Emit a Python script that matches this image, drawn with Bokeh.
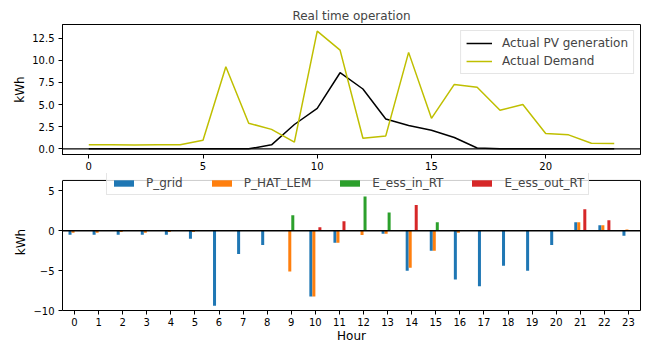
from bokeh.plotting import figure
from bokeh.layouts import column
from bokeh.models import (Range1d, FixedTicker, Span, Legend, LegendItem, ColumnDataSource,
                          LinearAxis)
from bokeh.transform import dodge
from bokeh.embed import file_html
from bokeh.resources import INLINE

hours = list(range(24))
pv_generation = [0, 0, 0, 0, 0, 0, 0, 0, 0.45, 2.75, 4.58, 8.6, 6.76, 3.38, 2.63, 2.1, 1.28, 0.1, 0, 0, 0, 0, 0, 0]
demand = [0.45, 0.45, 0.42, 0.47, 0.47, 0.98, 9.27, 2.9, 2.2, 0.75, 13.3, 11.15, 1.2, 1.46, 10.9, 3.45, 7.28, 6.95, 4.35, 5.0, 1.73, 1.58, 0.64, 0.6]

p_grid = [-0.5, -0.5, -0.5, -0.5, -0.5, -1.0, -9.4, -2.9, -1.8, 0, -8.26, -1.5, 0, -0.37, -5.0, -2.5, -6.1, -6.97, -4.4, -5.0, -1.78, 1.08, 0.7, -0.62]
p_hat_lem = [-0.25, -0.25, -0.15, -0.25, -0.15, -0.15, 0, 0, 0, -5.1, -8.26, -1.5, -0.54, -0.37, -4.65, -2.5, -0.25, 0, 0, 0, 0, 1.08, 0.7, 0.17]
e_ess_in_rt = [0, 0, 0, 0, 0, 0, 0, 0, 0, 1.95, 0, 0, 4.3, 2.3, 0, 1.08, 0, 0, 0, 0, 0, 0, 0, 0]
e_ess_out_rt = [0, 0, 0, 0, 0, 0, 0, 0, 0, 0, 0.45, 1.2, 0, 0, 3.24, 0, 0, 0, 0, 0, 0, 2.7, 1.33, 0]

series_names = ["P_grid", "P_HAT_LEM", "E_ess_in_RT", "E_ess_out_RT"]
series_colors = ["#1f77b4", "#ff7f0e", "#2ca02c", "#d62728"]

FONT = "DejaVu Sans"


def style(p):
    p.xgrid.visible = False
    p.ygrid.visible = False
    for ax in (p.xaxis[0], p.yaxis[0]):
        ax.axis_line_color = "black"
        ax.major_tick_line_color = "black"
        ax.major_tick_in = 0
        ax.major_tick_out = 4
        ax.minor_tick_line_color = None
        ax.major_label_text_font = FONT
        ax.major_label_text_font_size = "10px"
        ax.major_label_text_color = "black"
        ax.axis_label_text_font = FONT
        ax.axis_label_text_font_size = "12px"
        ax.axis_label_text_font_style = "normal"
        ax.axis_label_text_color = "black"
        ax.major_label_standoff = 3
    p.yaxis.major_label_standoff = 4
    p.yaxis.axis_label_standoff = 2


# ---------- top figure ----------
p1 = figure(width=643, height=172, output_backend="svg", toolbar_location=None,
            x_range=Range1d(-1.15, 24.15), y_range=Range1d(-0.64, 14.05),
            min_border_left=62, min_border_right=3, min_border_top=24, min_border_bottom=18)
p1.title.text = "Real time operation"
p1.title.align = "center"
p1.title.text_font = FONT
p1.title.text_font_size = "12px"
p1.title.text_font_style = "normal"
p1.title.standoff = 4
style(p1)
p1.outline_line_color = "black"
p1.outline_line_width = 1
p1.xaxis.ticker = FixedTicker(ticks=[0, 5, 10, 15, 20])
p1.xaxis.axis_label_standoff = 0
p1.yaxis.ticker = FixedTicker(ticks=[0, 2.5, 5, 7.5, 10, 12.5])
p1.yaxis.major_label_overrides = {0: "0.0", 2.5: "2.5", 5: "5.0", 7.5: "7.5", 10: "10.0", 12.5: "12.5"}
p1.yaxis.axis_label = "kWh"

src1 = ColumnDataSource(dict(hour=hours, pv=pv_generation, demand=demand))
r_pv = p1.line("hour", "pv", source=src1, line_color="black", line_width=1.5)
r_dem = p1.line("hour", "demand", source=src1, line_color="#bfbf00", line_width=1.5)
p1.add_layout(Span(location=0, dimension="width", line_color="black", line_width=1.3))

leg1 = Legend(items=[LegendItem(label="Actual PV generation", renderers=[r_pv]),
                     LegendItem(label="Actual Demand", renderers=[r_dem])],
              location="top_right", margin=6, padding=5, spacing=4,
              glyph_width=26, glyph_height=14, label_height=14, label_standoff=10,
              label_text_font=FONT, label_text_font_size="12px",
              border_line_color="#cccccc", background_fill_alpha=0.8)
p1.add_layout(leg1, "center")

# ---------- bottom figure ----------
Y2_LOW, Y2_TOP, Y2_VIEW_TOP = -10.0, 6.31, 7.18
p2 = figure(width=643, height=173, output_backend="svg", toolbar_location=None,
            x_range=Range1d(-0.5, 23.5), y_range=Range1d(Y2_LOW, Y2_VIEW_TOP),
            min_border_left=62, min_border_right=3, min_border_top=1, min_border_bottom=34)
style(p2)
p2.outline_line_color = None
p2.xaxis.ticker = FixedTicker(ticks=hours)
p2.xaxis.axis_label = "Hour"
p2.xaxis.axis_label_standoff = 0
p2.yaxis.ticker = FixedTicker(ticks=[-10, -5, 0, 5])
p2.yaxis.major_label_overrides = {-10: "\u221210", -5: "\u22125", 0: "0", 5: "5"}
p2.yaxis.axis_label = "kWh"
p2.yaxis.bounds = (Y2_LOW, Y2_TOP)

right_ax = LinearAxis(bounds=(Y2_LOW, Y2_TOP), ticker=FixedTicker(ticks=[]),
                      axis_line_color="black", major_tick_line_color=None,
                      minor_tick_line_color=None, major_label_standoff=0,
                      axis_label_standoff=0)
p2.add_layout(right_ax, "right")
p2.add_layout(Span(location=Y2_TOP, dimension="width", line_color="black", line_width=1))

src2 = ColumnDataSource(dict(hour=hours, P_grid=p_grid, P_HAT_LEM=p_hat_lem,
                             E_ess_in_RT=e_ess_in_rt, E_ess_out_RT=e_ess_out_rt))
offsets = [-0.1875, -0.0625, 0.0625, 0.1875]
bar_items = []
for name, col, off in zip(series_names, series_colors, offsets):
    r = p2.vbar(x=dodge("hour", off, range=p2.x_range), top=name, bottom=0, width=0.125,
                source=src2, fill_color=col, line_color=None)
    bar_items.append(LegendItem(label=name, renderers=[r]))
p2.add_layout(Span(location=0, dimension="width", line_color="black", line_width=1.3))

leg2 = Legend(items=bar_items, orientation="horizontal", location=(44, 115),
              padding=4, spacing=26, margin=0,
              glyph_width=25, glyph_height=8, label_height=14, label_standoff=10,
              label_text_font=FONT, label_text_font_size="12px",
              border_line_color="#cccccc", background_fill_alpha=0.8)
p2.add_layout(leg2, "center")

layout = column(p1, p2, spacing=0)
open("out.html", "w").write(file_html(layout, INLINE))
